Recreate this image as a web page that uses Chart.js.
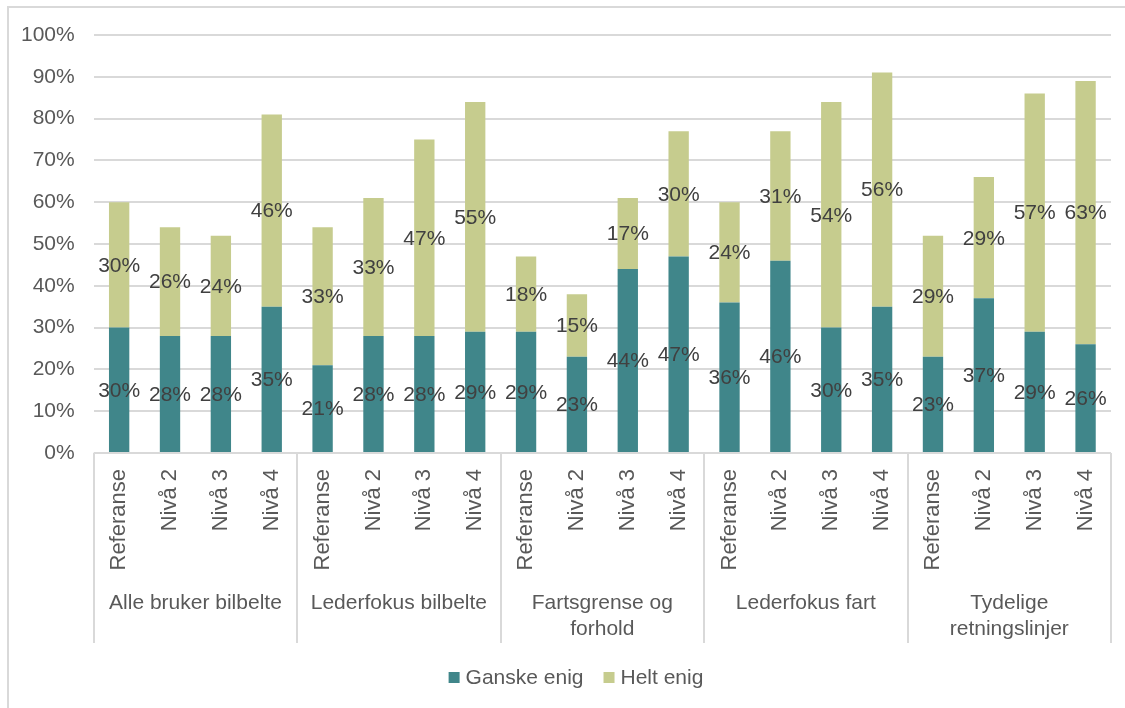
<!DOCTYPE html>
<html>
<head>
<meta charset="utf-8">
<script src="https://cdn.jsdelivr.net/npm/chart.js@4.4.0/dist/chart.umd.min.js"></script>
<style>
  html, body { margin: 0; padding: 0; background: #ffffff; }
  #wrap { width: 1125px; height: 708px; position: relative; }
</style>
</head>
<body>
<div id="wrap"><canvas id="sikkerhetChart"></canvas></div>
<script>
const grupper = [
    "Alle bruker bilbelte",
    "Lederfokus bilbelte",
    ["Fartsgrense og", "forhold"],
    "Lederfokus fart",
    ["Tydelige", "retningslinjer"],
];
const nivaer = ["Referanse", "Nivå 2", "Nivå 3", "Nivå 4"];

const ganskeEnig = [30, 28, 28, 35, 21, 28, 28, 29, 29, 23, 44, 47, 36, 46, 30, 35, 23, 37, 29, 26];
const heltEnig = [30, 26, 24, 46, 33, 33, 47, 55, 18, 15, 17, 30, 24, 31, 54, 56, 29, 29, 57, 63];

const labels = grupper.flatMap(() => nivaer);

const FONT = '"Liberation Sans", Arial, sans-serif';
const GRID = "#D9D9D9";

// value labels in the middle of each bar segment
const verdiEtiketter = {
    id: "verdiEtiketter",
    afterDatasetsDraw(chart) {
        const ctx = chart.ctx;
        ctx.save();
        ctx.font = "21px " + FONT;
        ctx.fillStyle = "#404040";
        ctx.textAlign = "center";
        ctx.textBaseline = "middle";
        chart.data.datasets.forEach((ds, i) => {
            chart.getDatasetMeta(i).data.forEach((bar, j) => {
                const y = (bar.y + bar.base) / 2;
                ctx.fillText(ds.data[j] + "%", bar.x, y + 1);
            });
        });
        ctx.restore();
    },
};

// group names, separators, legend and frame
const aksePynt = {
    id: "aksePynt",
    beforeDraw(chart) {
        const ctx = chart.ctx;
        ctx.save();
        ctx.strokeStyle = GRID;
        ctx.lineWidth = 2;
        ctx.beginPath();
        ctx.moveTo(8, chart.height);
        ctx.lineTo(8, 7);
        ctx.lineTo(chart.width, 7);
        ctx.stroke();
        ctx.restore();
    },
    afterDraw(chart) {
        const ctx = chart.ctx;
        const x = chart.scales.x;
        const top = chart.chartArea.bottom;
        const bottom = x.bottom;
        ctx.save();
        ctx.strokeStyle = GRID;
        ctx.lineWidth = 2;
        ctx.beginPath();
        ctx.moveTo(x.left, top);
        ctx.lineTo(x.right, top);
        for (let g = 0; g <= grupper.length; g++) {
            const px = Math.round(x.getPixelForValue(g * nivaer.length - 0.5));
            ctx.moveTo(px, top);
            ctx.lineTo(px, bottom);
        }
        ctx.stroke();

        ctx.font = "21px " + FONT;
        ctx.fillStyle = "#595959";
        ctx.textAlign = "center";
        ctx.textBaseline = "middle";
        grupper.forEach((navn, g) => {
            const a = x.getPixelForValue(g * nivaer.length - 0.5);
            const b = x.getPixelForValue((g + 1) * nivaer.length - 0.5);
            const linjer = Array.isArray(navn) ? navn : [navn];
            linjer.forEach((t, k) => ctx.fillText(t, (a + b) / 2, top + 150 + k * 26));
        });

        // legend
        const items = chart.data.datasets.map((ds) => ({ text: ds.label, color: ds.backgroundColor }));
        const box = 11, gapText = 6, gapItem = 20;
        const widths = items.map((it) => box + gapText + ctx.measureText(it.text).width);
        const total = widths.reduce((s, w) => s + w, 0) + gapItem * (items.length - 1);
        let lx = 576 - total / 2;
        const ly = 677;
        ctx.textAlign = "left";
        items.forEach((it, i) => {
            ctx.fillStyle = it.color;
            ctx.fillRect(lx, ly - 5, box, box);
            ctx.fillStyle = "#595959";
            ctx.fillText(it.text, lx + box + gapText, ly + 1);
            lx += widths[i] + gapItem;
        });
        ctx.restore();
    },
};

const data = {
    labels: labels,
    datasets: [
        {
            label: "Ganske enig",
            data: ganskeEnig,
            backgroundColor: "#40868A",
        },
        {
            label: "Helt enig",
            data: heltEnig,
            backgroundColor: "#C6CC8E",
        },
    ],
};

const config = {
    type: "bar",
    data: data,
    plugins: [verdiEtiketter, aksePynt],
    options: {
        responsive: true,
        maintainAspectRatio: false,
        animation: false,
        datasets: {
            bar: {
                barPercentage: 0.4,
                categoryPercentage: 1,
            },
        },
        layout: {
            padding: { left: 2, right: 14, top: 35, bottom: 65 },
        },
        plugins: {
            legend: { display: false },
            tooltip: { enabled: false },
        },
        scales: {
            x: {
                stacked: true,
                grid: { display: false },
                border: { display: false },
                afterFit(scale) {
                    scale.height = 190;
                },
                ticks: {
                    autoSkip: false,
                    minRotation: 90,
                    maxRotation: 90,
                    padding: 8,
                    color: "#595959",
                    font: { family: FONT, size: 22 },
                },
            },
            y: {
                stacked: true,
                min: 0,
                max: 100,
                border: { display: false },
                grid: { color: GRID, lineWidth: 2, drawTicks: false },
                ticks: {
                    stepSize: 10,
                    padding: 19,
                    color: "#595959",
                    font: { family: FONT, size: 21 },
                    callback: (v) => v + "%",
                },
            },
        },
    },
};

new Chart(document.getElementById("sikkerhetChart"), config);
</script>
</body>
</html>
